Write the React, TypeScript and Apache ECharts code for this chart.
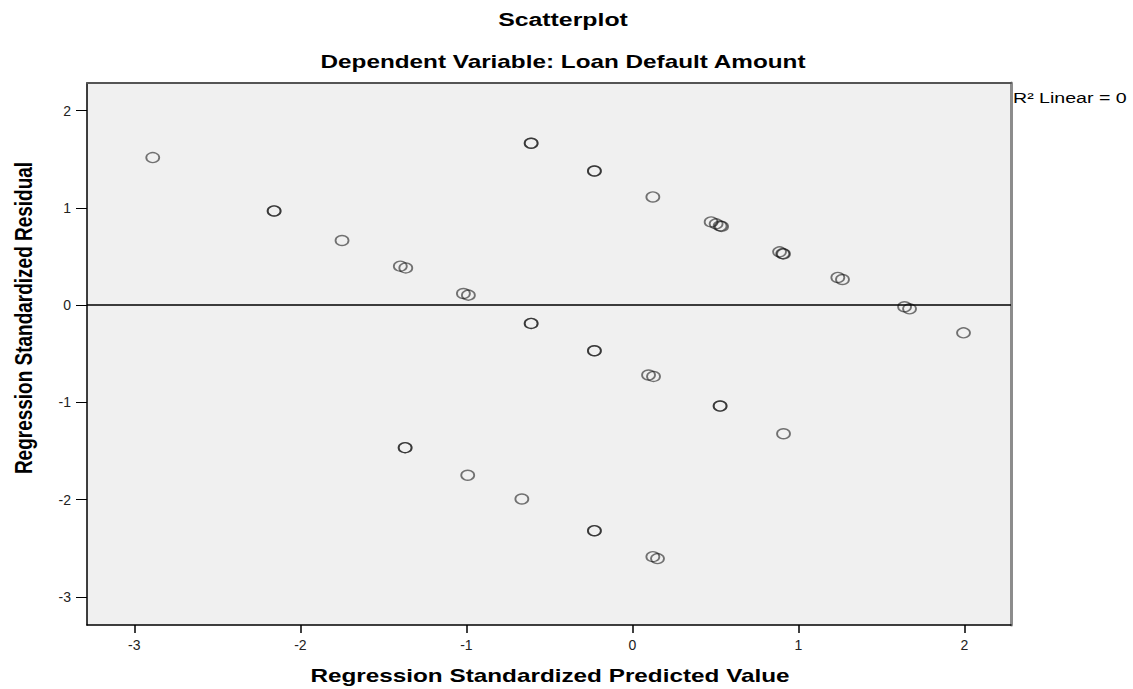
import React, { useEffect, useRef } from "react";
import * as echarts from "echarts";

// Regression standardized predicted values (x) and residuals (y).
// Repeated pairs are points that sit on top of each other (darker circles).
const predicted = [
  -2.889,
  -2.158, -2.158,
  -1.749,
  -1.398, -1.365,
  -1.018, -0.988,
  -0.61, -0.61,
  -0.229, -0.229,
  0.123,
  0.474, 0.504, 0.528, 0.537,
  0.886, 0.905, 0.91,
  1.237, 1.265,
  1.639, 1.669,
  1.994,
  -0.61, -0.61,
  -0.229, -0.229,
  0.097, 0.127,
  0.528, 0.528,
  0.91,
  -1.369, -1.369,
  -0.992,
  -0.666,
  -0.229, -0.229,
  0.123, 0.151,
];
const residual = [
  1.518,
  0.969, 0.969,
  0.665,
  0.401, 0.383,
  0.12, 0.103,
  1.665, 1.665,
  1.38, 1.38,
  1.113,
  0.856, 0.836, 0.815, 0.81,
  0.548, 0.53, 0.527,
  0.285, 0.264,
  -0.017, -0.038,
  -0.285,
  -0.188, -0.188,
  -0.469, -0.469,
  -0.719, -0.733,
  -1.038, -1.038,
  -1.323,
  -1.466, -1.466,
  -1.75,
  -1.994,
  -2.32, -2.32,
  -2.587, -2.607,
];

const xTicks = [-3, -2, -1, 0, 1, 2];
const yTicks = [-3, -2, -1, 0, 1, 2];
const xRange = [-3.285, 2.28];
const yRange = [-3.29, 2.285];
const titleText = "Scatterplot";
const subtitleText = "Dependent Variable: Loan Default Amount";
const xName = "Regression Standardized Predicted Value";
const yName = "Regression Standardized Residual";
const fitLabel = "R² Linear = 0";

const FONT = '"Liberation Sans", Arial, sans-serif';

export default function App() {
  const ref = useRef<HTMLDivElement>(null);
  useEffect(() => {
    if (!ref.current) return;
    const chart = echarts.init(ref.current, undefined, { renderer: "svg" });
    const points = predicted.map((x, i) => [x, residual[i]]);
    const titleStyle = (text: string, size: number) => ({
      text,
      fill: "#000",
      font: `bold ${size}px ${FONT}`,
      align: "center",
      verticalAlign: "middle",
    });
    chart.setOption({
      animation: false,
      backgroundColor: "#fff",
      grid: {
        left: 87,
        top: 83,
        width: 924,
        height: 542,
        show: true,
        backgroundColor: "#f0f0f0",
        borderWidth: 0,
      },
      xAxis: [
        {
          type: "value",
          min: xRange[0],
          max: xRange[1],
          position: "bottom",
          splitLine: { show: false },
          axisLine: { show: true, onZero: false, lineStyle: { color: "#000", width: 1.5 } },
          axisTick: { show: true, length: 8, customValues: xTicks, lineStyle: { color: "#000", width: 1.5 } },
          axisLabel: { customValues: xTicks, margin: 13, color: "#222", fontSize: 14, fontFamily: FONT },
        },
        {
          type: "value",
          min: xRange[0],
          max: xRange[1],
          position: "top",
          splitLine: { show: false },
          axisLine: { show: true, onZero: false, lineStyle: { color: "#555", width: 2 } },
          axisTick: { show: false },
          axisLabel: { show: false },
        },
      ],
      yAxis: [
        {
          type: "value",
          min: yRange[0],
          max: yRange[1],
          position: "left",
          splitLine: { show: false },
          axisLine: { show: true, onZero: false, lineStyle: { color: "#000", width: 1.5 } },
          axisTick: { show: true, length: 11, customValues: yTicks, lineStyle: { color: "#000", width: 1 } },
          axisLabel: { customValues: yTicks, margin: 16, color: "#222", fontSize: 14, fontFamily: FONT },
        },
        {
          type: "value",
          min: yRange[0],
          max: yRange[1],
          position: "right",
          splitLine: { show: false },
          axisLine: { show: true, onZero: false, lineStyle: { color: "#8c8c8c", width: 3 } },
          axisTick: { show: false },
          axisLabel: { show: false },
        },
      ],
      graphic: [
        { type: "text", x: 563, y: 20, scaleX: 1.38, silent: true, style: titleStyle(titleText, 18) },
        { type: "text", x: 563, y: 62, scaleX: 1.35, silent: true, style: titleStyle(subtitleText, 18) },
        { type: "text", x: 550, y: 676, scaleX: 1.35, silent: true, style: titleStyle(xName, 18) },
        {
          type: "text",
          x: 24,
          y: 318,
          rotation: Math.PI / 2,
          scaleY: 1.3,
          silent: true,
          style: titleStyle(yName, 19),
        },
        {
          type: "text",
          x: 1013,
          y: 98,
          scaleX: 1.4,
          silent: true,
          style: { text: fitLabel, fill: "#000", font: `14px ${FONT}`, align: "left", verticalAlign: "middle" },
        },
      ],
      series: [
        {
          type: "scatter",
          xAxisIndex: 0,
          yAxisIndex: 0,
          data: points,
          symbol: "circle",
          symbolSize: [13, 10],
          itemStyle: { color: "rgba(0,0,0,0)", borderColor: "rgba(15,15,15,0.7)", borderWidth: 1.6 },
          emphasis: { disabled: true },
          markLine: {
            silent: true,
            symbol: "none",
            label: { show: false },
            lineStyle: { color: "#000", width: 1.5, type: "solid" },
            data: [{ yAxis: 0 }],
          },
        },
      ],
    });
    return () => chart.dispose();
  }, []);
  return (
    <div
      ref={ref}
      style={{ position: "absolute", left: 0, top: 0, width: 1133, height: 689 }}
    />
  );
}
